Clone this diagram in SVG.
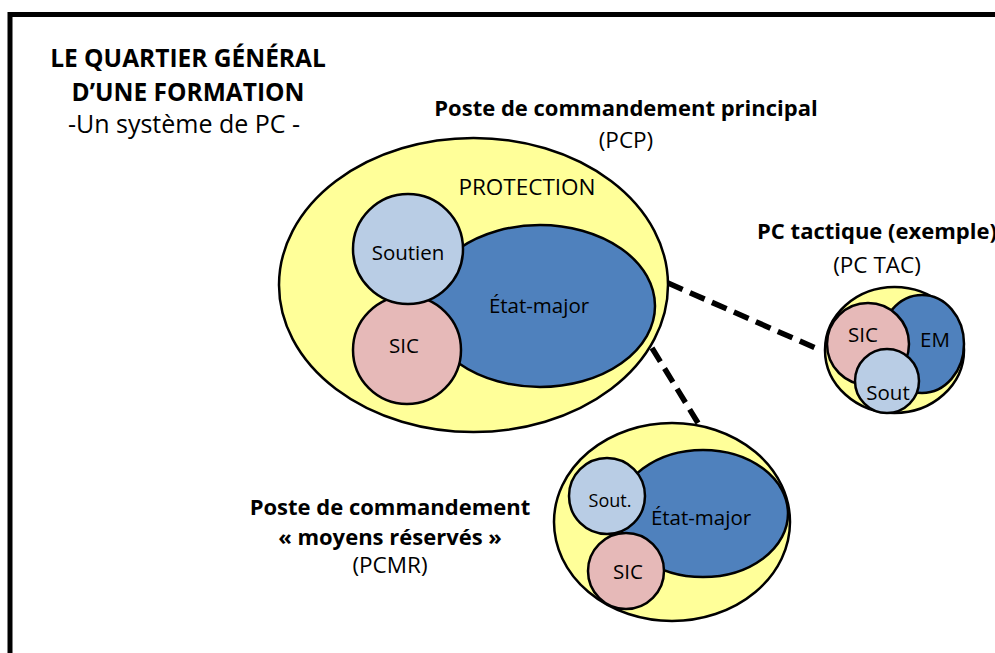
<svg xmlns="http://www.w3.org/2000/svg" width="995" height="653" viewBox="0 0 995 653">
<style>
.t{font-family:"Open Sans","Noto Sans","Liberation Sans",sans-serif;fill:#000;text-anchor:middle}
.b{font-weight:bold;font-size:22px}
.r{font-size:22.5px}
.n{font-size:20.5px}
.s{font-size:18px}
.y{fill:#FFFF99;stroke:#000;stroke-width:2.5}
.em{fill:#4F81BD;stroke:#000;stroke-width:2.5}
.so{fill:#B9CDE5;stroke:#000;stroke-width:2.5}
.si{fill:#E6B9B8;stroke:#000;stroke-width:2.5}
.d{stroke:#000;stroke-width:5.5;stroke-dasharray:16 8;fill:none}
</style>
<rect width="995" height="653" fill="#fff"/>
<rect x="10" y="14.5" width="1010" height="700" fill="none" stroke="#000" stroke-width="5"/>
<g id="title">
<text class="t" x="188" y="67" font-weight="bold" font-size="24.5">LE QUARTIER GÉNÉRAL</text>
<text class="t" x="188" y="101" font-weight="bold" font-size="24.5">D’UNE FORMATION</text>
<text class="t" x="184" y="133" font-size="25">-Un système de PC -</text>
</g>
<g id="connectors">
<line class="d" x1="668" y1="283" x2="820" y2="350"/>
<line class="d" x1="652" y1="348" x2="698" y2="423"/>
</g>
<g id="pcp">
<text class="t b" x="626" y="116">Poste de commandement principal</text>
<text class="t r" x="626" y="148">(PCP)</text>
<ellipse class="y" cx="473.5" cy="285" rx="194.5" ry="147"/>
<text class="t r" x="527" y="195">PROTECTION</text>
<ellipse class="em" cx="540" cy="306" rx="115" ry="81"/>
<circle class="si" cx="407" cy="350" r="54"/>
<circle class="so" cx="408" cy="249" r="55"/>
<text class="t n" x="539" y="313">État-major</text>
<text class="t n" x="408" y="260">Soutien</text>
<text class="t n" x="404" y="353">SIC</text>
</g>
<g id="pctac">
<text class="t b" x="877" y="239">PC tactique (exemple)</text>
<text class="t r" x="877" y="273">(PC TAC)</text>
<ellipse class="y" cx="894.5" cy="350" rx="69.5" ry="63"/>
<ellipse class="em" cx="922" cy="344" rx="42" ry="49"/>
<circle class="si" cx="868" cy="344" r="41"/>
<circle class="so" cx="887" cy="381" r="32"/>
<text class="t n" x="863" y="342">SIC</text>
<text class="t n" x="935" y="347">EM</text>
<text class="t n" x="888" y="400">Sout</text>
</g>
<g id="pcmr">
<text class="t b" x="390" y="515">Poste de commandement</text>
<text class="t b" x="390" y="545">« moyens réservés »</text>
<text class="t r" x="390" y="573">(PCMR)</text>
<ellipse class="y" cx="672" cy="522" rx="118" ry="99"/>
<ellipse class="em" cx="703" cy="513.5" rx="85" ry="63.5"/>
<circle class="so" cx="607" cy="496" r="38"/>
<circle class="si" cx="626" cy="571" r="38"/>
<text class="t n" x="701" y="525">État-major</text>
<text class="t s" x="610" y="507">Sout.</text>
<text class="t n" x="628" y="579">SIC</text>
</g>
</svg>
